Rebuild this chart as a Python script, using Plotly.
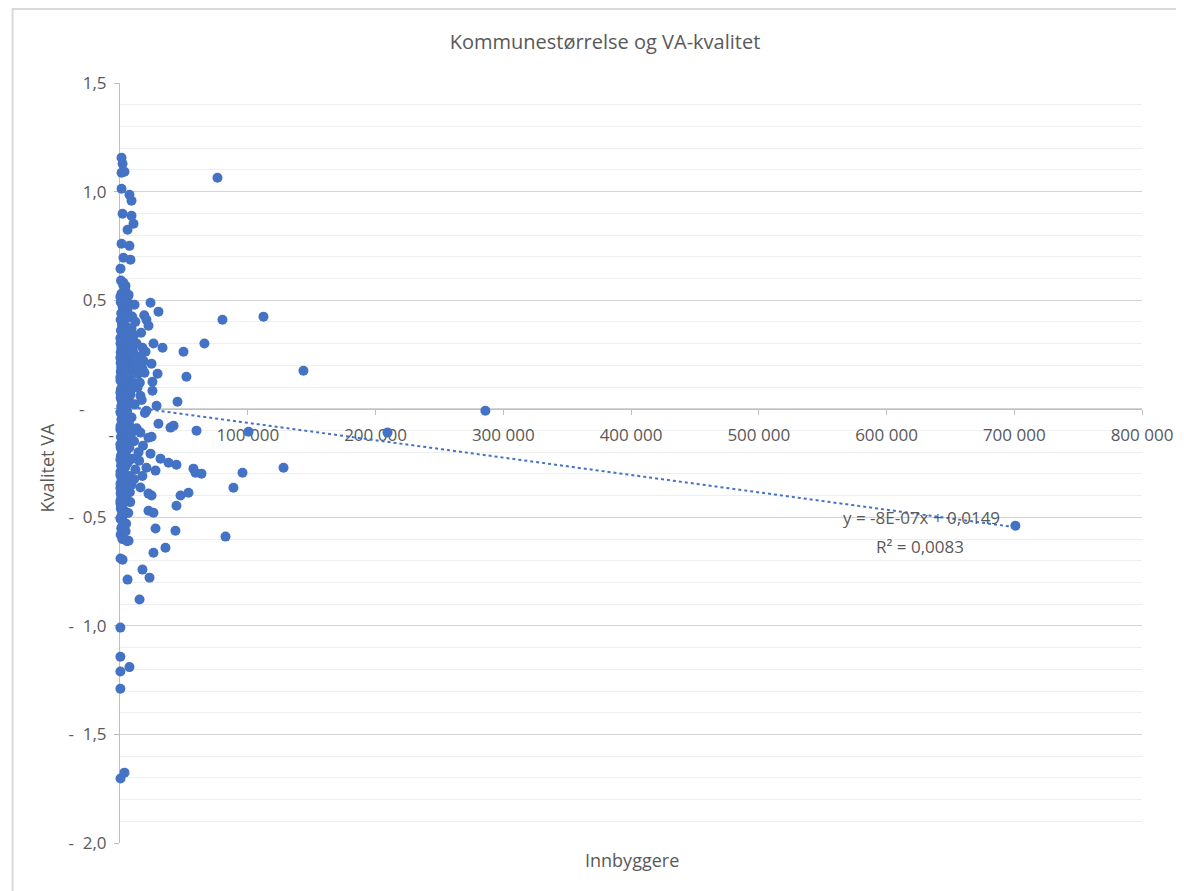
import plotly.graph_objects as go

# ---- data (Innbyggere, Kvalitet VA) ----
large_x = [76300, 80200, 112300, 143600, 66100, 49700, 52000, 286000, 209400, 100600,
           128000, 95900, 88800, 82600, 700900, 59900, 57500, 59100, 63800, 53600,
           47400, 44200, 43400, 45000, 39500, 41900, 44200, 38000, 35600]
large_y = [1.064, 0.41, 0.424, 0.175, 0.30, 0.262, 0.147, -0.009, -0.11, -0.106,
           -0.272, -0.295, -0.364, -0.589, -0.539, -0.101, -0.276, -0.295, -0.299, -0.387,
           -0.40, -0.447, -0.562, 0.032, -0.087, -0.078, -0.258, -0.249, -0.64]

mid_x = [23900, 30100, 20700, 22300, 26200, 33300, 17600, 20000, 24700, 17600,
         19200, 29400, 25400, 25400, 13700, 28600, 20700, 30100, 22300, 24700,
         23900, 31700, 20700, 27800, 16000, 22300, 24700, 22300, 26200, 27800,
         26200, 17600, 23100, 15300, 11400]
mid_y = [0.488, 0.447, 0.41, 0.382, 0.30, 0.281, 0.281, 0.262, 0.207, 0.184,
         0.166, 0.161, 0.124, 0.083, 0.097, 0.014, -0.009, -0.069, -0.134, -0.129,
         -0.207, -0.23, -0.272, -0.285, -0.363, -0.391, -0.40, -0.47, -0.479, -0.552,
         -0.663, -0.741, -0.778, -0.879, 0.479]

tail_x = [1200, 2000, 1200, 3500, 1200, 7400, 9000, 2000, 9000, 10600,
          5900, 1200, 7400, 2700, 8200, 400, 2700, 4300, 6700, 400,
          400, 2700, 4300, 2000, 6700, 400, 2000, 300, 300, 300,
          7400, 300, 3500, 400, 5900]
tail_y = [1.156, 1.128, 1.087, 1.091, 1.013, 0.985, 0.958, 0.898, 0.889, 0.852,
          0.824, 0.76, 0.75, 0.695, 0.686, 0.645, 0.58, 0.566, 0.525, -0.345,
          -0.437, -0.483, -0.53, -0.60, -0.608, -0.69, -0.695, -1.008, -1.142, -1.21,
          -1.19, -1.29, -1.676, -1.703, -0.787]

band_a_x = [800, 2500, 4000, 1200, 6500, 3000, 600, 8500, 2000, 5000, 1000, 3500, 7000, 500, 2200, 12000]
band_a_y = [0.59, 0.57, 0.55, 0.53, 0.52, 0.50, 0.49, 0.48, 0.47, 0.46, 0.44, 0.43, 0.42, 0.41, 0.40, 0.40]

band_b_x = [1500, 4500, 9000, 700, 3000, 6000, 11000, 1800, 4000, 8000, 400, 2600, 13000, 5500, 1000,
            7500, 3500, 10000, 600, 2000, 5000, 15000, 1300, 4000, 8500, 500, 2800, 6500, 12500]
band_b_y = [0.39, 0.38, 0.37, 0.36, 0.35, 0.34, 0.34, 0.33, 0.32, 0.31, 0.30, 0.30, 0.30, 0.29, 0.28,
            0.28, 0.27, 0.27, 0.26, 0.25, 0.25, 0.24, 0.23, 0.23, 0.22, 0.21, 0.21, 0.20, 0.20]

band_c_x = [1000, 3800, 9500, 600, 2200, 5500, 14000, 1500, 4200, 7500, 400, 2900, 10500, 1800, 6000,
            700, 3500, 8000, 1200, 4800, 16000, 500, 2500, 6800, 1600, 3900, 11500, 900, 2700, 5500]
band_c_y = [0.19, 0.19, 0.18, 0.17, 0.17, 0.16, 0.16, 0.15, 0.14, 0.14, 0.13, 0.12, 0.12, 0.11, 0.10,
            0.09, 0.09, 0.08, 0.07, 0.06, 0.06, 0.05, 0.05, 0.04, 0.03, 0.02, 0.02, 0.01, 0.00, -0.01]

band_d_x = [600, 1900, 4300, 9000, 1100, 3000, 7000, 400, 2300, 13000, 5000, 1400, 3600, 8500, 700,
            2000, 5800, 11000, 1000, 3300, 500, 7300, 2500, 4600, 14500]
band_d_y = [-0.02, -0.03, -0.04, -0.04, -0.05, -0.06, -0.07, -0.08, -0.08, -0.09, -0.10, -0.11, -0.12, -0.12, -0.13,
            -0.14, -0.15, -0.15, -0.16, -0.17, -0.18, -0.18, -0.19, -0.20, -0.20]

band_e_x = [1300, 600, 3800, 9800, 2100, 6000, 900, 4000, 1600, 12000, 400, 3000, 7500, 1200, 5200,
            2400, 700, 9000, 3600, 1500, 6200, 500, 2800]
band_e_y = [-0.21, -0.22, -0.22, -0.23, -0.24, -0.25, -0.26, -0.27, -0.28, -0.28, -0.29, -0.30, -0.31, -0.32, -0.33,
            -0.34, -0.35, -0.35, -0.36, -0.37, -0.38, -0.39, -0.40]

band_f_x = [1000, 4500, 8000, 2000, 600, 3300, 6500, 1400, 800, 2600, 4800, 1000, 3000, 500, 2000, 5500]
band_f_y = [-0.41, -0.42, -0.43, -0.44, -0.46, -0.47, -0.48, -0.49, -0.51, -0.52, -0.53, -0.55, -0.56, -0.58, -0.60, -0.61]

band_g_x = [300, 3200, 5800, 9500, 1700, 4600, 300, 2300, 7200, 10500,
            300, 1100, 3700, 6200, 300, 2000, 8800, 300, 1300, 4900,
            300, 2600, 6900, 300, 1800, 3900, 300, 9400, 1500, 300,
            4200, 300, 2100, 11000, 300, 3400, 300, 1600, 7700, 300]
band_g_y = [0.515, 0.485, 0.455, 0.425, 0.375, 0.345, 0.325, 0.315, 0.295, 0.255,
            0.235, 0.215, 0.195, 0.175, 0.145, 0.125, 0.105, 0.075, 0.035, 0.015,
            -0.015, -0.045, -0.055, -0.095, -0.085, -0.135, -0.165, -0.105, -0.195, -0.235,
            -0.245, -0.305, -0.315, -0.325, -0.365, -0.395, -0.425, -0.455, -0.385, -0.505]

band_h_x = [16500, 18500, 15500, 17000, 19500, 16000, 18000, 15000, 17500, 19000]
band_h_y = [0.35, 0.22, 0.12, 0.04, -0.02, -0.11, -0.17, -0.24, -0.31, 0.43]

band_i_x = [3000, 5200, 1500, 6800, 2700, 4100, 8200, 1900, 5600, 3300,
            7400, 2400, 4700, 1200, 6100, 3700, 2900, 5300, 1600, 4400]
band_i_y = [0.505, 0.435, 0.355, 0.265, 0.225, 0.155, 0.065, 0.045, -0.025, -0.065,
            -0.115, -0.155, -0.225, -0.265, -0.345, -0.415, -0.475, -0.365, -0.545, -0.565]

TREND_SLOPE = -8e-07
TREND_INTERCEPT = 0.0149
TREND_LABEL_1 = "y = -8E-07x + 0,0149"
TREND_LABEL_2 = "R² = 0,0083"

y_tickvals = [1.5, 1.0, 0.5, 0, -0.5, -1.0, -1.5, -2.0]
y_ticktext = ["1,5", "1,0", "0,5", "-\u00a0\u00a0\u00a0\u00a0\u00a0",
              "-\u00a0\u00a00,5", "-\u00a0\u00a01,0", "-\u00a0\u00a01,5", "-\u00a0\u00a02,0"]
x_tickvals = [0, 100000, 200000, 300000, 400000, 500000, 600000, 700000, 800000]
x_ticktext = ["-\u00a0\u00a0\u00a0\u00a0", "100 000", "200 000", "300 000", "400 000",
              "500 000", "600 000", "700 000", "800 000"]

# ---- assemble ----
xs = (large_x + mid_x + tail_x + band_a_x + band_b_x + band_c_x + band_d_x
      + band_e_x + band_f_x + band_g_x + band_h_x + band_i_x)
ys = (large_y + mid_y + tail_y + band_a_y + band_b_y + band_c_y + band_d_y
      + band_e_y + band_f_y + band_g_y + band_h_y + band_i_y)
assert len(xs) == len(ys)

BLUE = "#4472C4"
GREY = "#595959"
FONT = "Open Sans"

fig = go.Figure()

tx = [0, max(xs)]
ty = [TREND_SLOPE * v + TREND_INTERCEPT for v in tx]
fig.add_trace(go.Scatter(x=tx, y=ty, mode="lines",
                         line=dict(color=BLUE, width=2, dash="dot"),
                         hoverinfo="skip", showlegend=False, cliponaxis=False))
fig.add_trace(go.Scatter(x=xs, y=ys, mode="markers",
                         marker=dict(color=BLUE, size=10, line=dict(width=0)),
                         showlegend=False, cliponaxis=False))

W, H = 1184, 891
OFF = 8  # page body margin
# plot area in page pixels: x 119.5..1142, y 83..843
ML = 119.5 - OFF
MT = 83 - OFF
MR = W - (1142 - OFF)
MB = H - (843 - OFF)
pw, ph = W - ML - MR, H - MT - MB


def px2paper_x(px):
    return (px - OFF - ML) / pw


def px2paper_y(py):
    return (H - MB - (py - OFF)) / ph


fig.update_layout(
    width=W, height=H,
    margin=dict(l=ML, r=MR, t=MT, b=MB, pad=0),
    paper_bgcolor="white", plot_bgcolor="white",
    font=dict(family=FONT, color=GREY, size=17),
    title=dict(text="Kommunestørrelse og VA-kvalitet", font=dict(family=FONT, size=20, color=GREY),
               x=(605 - OFF) / W, xref="container", xanchor="center",
               y=1 - (42 - OFF) / H, yref="container", yanchor="middle"),
    xaxis=dict(range=[0, 800000], anchor="free", position=2 / 3.5,
               tickvals=x_tickvals, ticktext=x_ticktext,
               showgrid=False, zeroline=False,
               showline=True, linecolor="#bfbfbf", linewidth=1,
               ticks="outside", ticklen=5, tickcolor="#bfbfbf",
               ticklabelstandoff=6,
               tickfont=dict(size=17, color=GREY, family=FONT),
               layer="below traces", fixedrange=True),
    yaxis=dict(range=[-2.0, 1.5], tickvals=y_tickvals, ticktext=y_ticktext,
               showgrid=True, gridcolor="#d4d4d4", gridwidth=1,
               zeroline=False,
               showline=True, linecolor="#bfbfbf", linewidth=1,
               ticks="outside", ticklen=5, tickcolor="#bfbfbf",
               ticklabelstandoff=4,
               tickfont=dict(size=17, color=GREY, family=FONT),
               minor=dict(dtick=0.1, tick0=0, showgrid=True, gridcolor="#eeeeee", gridwidth=1),
               layer="below traces", fixedrange=True),
    annotations=[
        dict(text="Innbyggere", x=px2paper_x(632), y=px2paper_y(860), xref="paper", yref="paper",
             showarrow=False, xanchor="center", yanchor="middle", font=dict(size=18, color=GREY, family=FONT)),
        dict(text="Kvalitet VA", x=px2paper_x(46), y=px2paper_y(468), xref="paper", yref="paper",
             showarrow=False, xanchor="center", yanchor="middle", textangle=-90,
             font=dict(size=18, color=GREY, family=FONT)),
        dict(text=TREND_LABEL_1, x=px2paper_x(921), y=px2paper_y(517), xref="paper", yref="paper",
             showarrow=False, xanchor="center", yanchor="middle", font=dict(size=17, color=GREY, family=FONT)),
        dict(text=TREND_LABEL_2, x=px2paper_x(920), y=px2paper_y(546), xref="paper", yref="paper",
             showarrow=False, xanchor="center", yanchor="middle", font=dict(size=17, color=GREY, family=FONT)),
    ],
    shapes=[
        dict(type="rect", xref="paper", yref="paper",
             x0=px2paper_x(12), x1=px2paper_x(1210), y0=px2paper_y(920), y1=px2paper_y(9),
             line=dict(color="#d9d9d9", width=2), fillcolor="rgba(0,0,0,0)", layer="below"),
    ],
)

fig.write_html("out.html")
